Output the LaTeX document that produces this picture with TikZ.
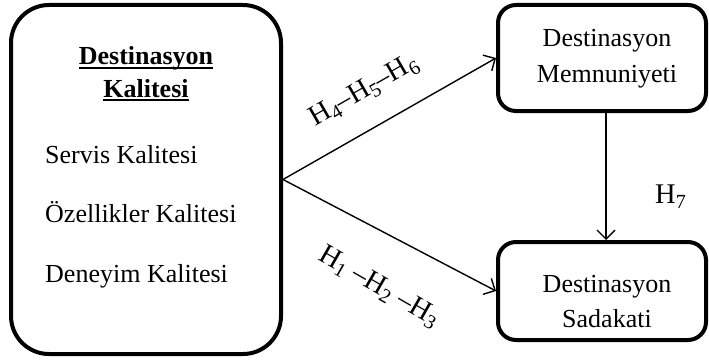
\documentclass[tikz,border=0pt]{standalone}
\usepackage{fontspec}
\setmainfont{Liberation Serif}
\usetikzlibrary{arrows.meta}
% underline at a fixed depth below the baseline
\newcommand{\lineunder}[1]{\setbox0\hbox{#1}\rlap{\rule[-3.5pt]{\wd0}{1.6pt}}\box0}
% hypothesis index, set low and fairly large
\newcommand{\hidx}[1]{\raisebox{-5pt}{\fontsize{20}{20}\selectfont #1}}
\begin{document}
\begin{tikzpicture}[x=1pt,y=-1pt,
  box/.style={draw, line width=4pt, rounded corners=#1, inner sep=0pt},
  txt/.style={font=\fontsize{26}{31}\selectfont, inner sep=0pt, anchor=base},
  link/.style={line width=1.4pt, -{Straight Barb[length=9pt,width=18pt,line width=1.4pt]}},
  hyp/.style={font=\fontsize{28.5}{30}\selectfont, inner sep=0pt}]
\useasboundingbox (0,0) rectangle (709,361);

% boxes
\node[box=38pt, minimum width=270pt, minimum height=349pt] (quality) at (146,179.5) {};
\node[box=18pt, minimum width=208pt, minimum height=106pt] (satisf) at (602,58) {};
\node[box=18pt, minimum width=208pt, minimum height=98pt] (loyal) at (602,291) {};

% texts of the quality box
\node[txt] (qt1) at (146,65) {\lineunder{\textbf{Destinasyon}}};
\node[txt] (qt2) at (146,97) {\lineunder{\textbf{Kalitesi}}};
\node[txt, anchor=base west] (qs1) at (45,163) {Servis Kalitesi};
\node[txt, anchor=base west] (qs2) at (45,222) {Özellikler Kalitesi};
\node[txt, anchor=base west] (qs3) at (45,282) {Deneyim Kalitesi};

% texts of the outcome boxes
\node[txt] (st1) at (607,47) {Destinasyon};
\node[txt] (st2) at (607,82) {Memnuniyeti};
\node[txt] (lt1) at (607,292) {Destinasyon};
\node[txt] (lt2) at (607,327) {Sadakati};

% paths
\draw[link] (quality.east) -- (satisf.west);
\draw[link] (quality.east) -- (loyal.west);
\draw[link] ([xshift=4pt]satisf.south) -- ([xshift=4pt]loyal.north);

% hypothesis labels
\node[hyp, rotate=30] (h456) at (364,91) {H\hidx{4}–H\hidx{5}–H\hidx{6}};
\node[hyp, rotate=-30] (h123) at (379,287) {H\hidx{1} –H\hidx{2} –H\hidx{3}};
\node[hyp, anchor=base west] (h7) at (655,203) {H\hidx{7}};
\end{tikzpicture}
\end{document}
